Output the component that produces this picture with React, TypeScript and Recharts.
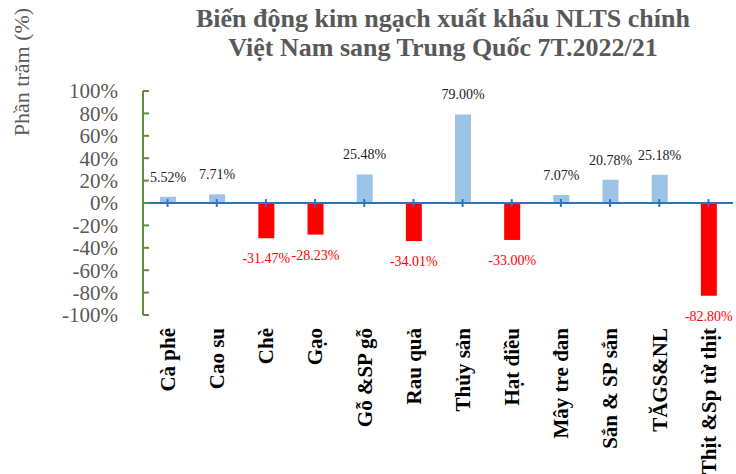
import { Bar, BarChart, Cell, LabelList, ReferenceLine, XAxis, YAxis } from "recharts";

const categories = [
  "Cà phê",
  "Cao su",
  "Chè",
  "Gạo",
  "Gỗ &SP gỗ",
  "Rau quả",
  "Thủy sản",
  "Hạt điều",
  "Mây tre đan",
  "Sắn & SP sắn",
  "TĂGS&NL",
  "Thịt &Sp từ thịt",
];
const changes = [5.52, 7.71, -31.47, -28.23, 25.48, -34.01, 79.0, -33.0, 7.07, 20.78, 25.18, -82.8];
const yTicks = [-100, -80, -60, -40, -20, 0, 20, 40, 60, 80, 100];

const SERIF = '"Liberation Serif", "Times New Roman", serif';
const GRAY = "#595959";

const data = categories.map((name, i) => ({ name, value: changes[i] }));

function YTick(props: any) {
  const { x, y, payload } = props;
  return (
    <g>
      <line x1={x + 25} x2={x + 31} y1={y} y2={y} stroke="#5E8E3E" strokeWidth={2} />
      <text x={x} y={y} dy="0.35em" textAnchor="end" fontSize={21} fill={GRAY} fontFamily={SERIF}>
        {payload.value}%
      </text>
    </g>
  );
}

function XTick(props: any) {
  const { x, y, payload } = props;
  return (
    <text
      x={x}
      y={y}
      dy="0.35em"
      textAnchor="end"
      transform={`rotate(-90 ${x} ${y})`}
      fontSize={21}
      fontWeight="bold"
      fill="#000"
      fontFamily={SERIF}
    >
      {payload.value}
    </text>
  );
}

function ValueLabel(props: any) {
  const { x, y, width, height, value } = props;
  const top = Math.min(y, y + height);
  const bottom = Math.max(y, y + height);
  const neg = value < 0;
  return (
    <text
      x={x + width / 2}
      y={neg ? bottom + 20 : top - 20}
      dy="0.35em"
      textAnchor="middle"
      fontSize={14}
      fill={neg ? "#FF0000" : "#222"}
      fontFamily={SERIF}
    >
      {value.toFixed(2)}%
    </text>
  );
}

export default function App() {
  return (
    <div style={{ position: "absolute", left: 0, top: 0, width: 736, height: 474, background: "#fff" }}>
      <div
        style={{
          position: "absolute",
          left: 443,
          top: 4,
          transform: "translateX(-50%)",
          textAlign: "center",
          whiteSpace: "nowrap",
          fontFamily: SERIF,
          fontWeight: "bold",
          fontSize: 26,
          lineHeight: "29px",
          color: GRAY,
        }}
      >
        Biến động kim ngạch xuất khẩu NLTS chính
        <br />
        Việt Nam sang Trung Quốc 7T.2022/21
      </div>
      <div
        style={{
          position: "absolute",
          left: 22,
          top: 72,
          transform: "translate(-50%, -50%) rotate(-90deg)",
          whiteSpace: "nowrap",
          fontFamily: SERIF,
          fontSize: 22,
          color: GRAY,
        }}
      >
        Phần trăm (%)
      </div>
      <BarChart
        width={736}
        height={474}
        data={data}
        margin={{ top: 91, right: 3, bottom: 0, left: 0 }}
        barSize={16}
      >
        <XAxis
          dataKey="name"
          type="category"
          axisLine={false}
          tickLine={false}
          tickSize={0}
          tickMargin={13}
          height={159}
          interval={0}
          tick={<XTick />}
        />
        <YAxis
          type="number"
          domain={[-100, 100]}
          ticks={yTicks}
          width={143}
          axisLine={{ stroke: "#5E8E3E", strokeWidth: 2 }}
          tickLine={false}
          tickSize={0}
          tickMargin={25}
          interval={0}
          tick={<YTick />}
        />
        <ReferenceLine y={0} stroke="#2E75B6" strokeWidth={2} />
        {categories.map((c) => (
          <ReferenceLine
            key={c}
            segment={[
              { x: c, y: -3.5 },
              { x: c, y: 3.5 },
            ]}
            stroke="#2E75B6"
            strokeWidth={2}
          />
        ))}
        <Bar dataKey="value" isAnimationActive={false}>
          {data.map((d) => (
            <Cell key={d.name} fill={d.value >= 0 ? "#9DC3E6" : "#FF0000"} />
          ))}
          <LabelList dataKey="value" content={<ValueLabel />} />
        </Bar>
      </BarChart>
    </div>
  );
}
